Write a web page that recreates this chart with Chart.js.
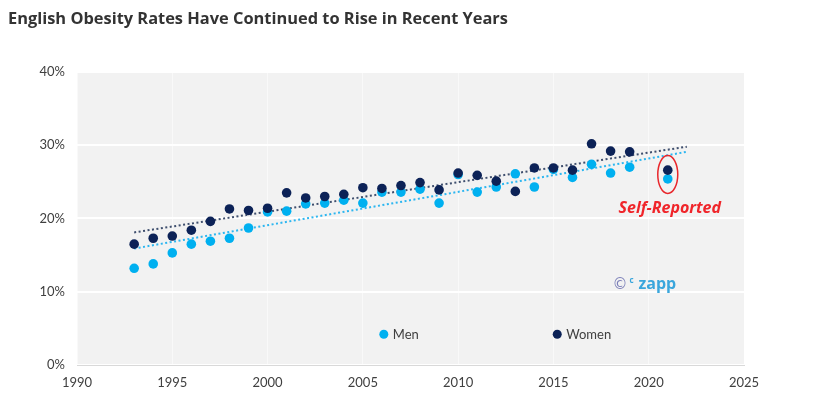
<!DOCTYPE html>
<html>
<head>
<meta charset="utf-8">
<script src="https://cdn.jsdelivr.net/npm/chart.js@4.4.0/dist/chart.umd.min.js"></script>
<style>
html, body { margin: 0; padding: 0; background: #fff; }
#wrap { width: 819px; height: 408px; }
</style>
</head>
<body>
<div id="wrap"><canvas id="chart"></canvas></div>
<script>
// survey years (no 2020 point)
var years = [1993, 1994, 1995, 1996, 1997, 1998, 1999, 2000, 2001, 2002, 2003, 2004, 2005, 2006,
             2007, 2008, 2009, 2010, 2011, 2012, 2013, 2014, 2015, 2016, 2017, 2018, 2019, 2021];
var menRates = [13.2, 13.8, 15.3, 16.5, 16.9, 17.3, 18.7, 20.9, 21.0, 22.0, 22.1, 22.5, 22.1, 23.6,
                23.6, 24.0, 22.1, 26.0, 23.6, 24.3, 26.1, 24.3, 26.7, 25.6, 27.4, 26.2, 27.0, 25.4];
var womenRates = [16.5, 17.3, 17.6, 18.4, 19.6, 21.3, 21.1, 21.4, 23.5, 22.8, 23.0, 23.3, 24.2, 24.1,
                  24.5, 24.9, 23.9, 26.2, 25.9, 25.1, 23.7, 26.9, 26.9, 26.6, 30.2, 29.2, 29.1, 26.6];
// dotted trend lines, end points
var trendYears = [1993, 2022];
var menTrend = [15.9, 29.1];
var womenTrend = [18.1, 29.8];
var xTicks = [1990, 1995, 2000, 2005, 2010, 2015, 2020, 2025];
var yTicks = [0, 10, 20, 30, 40];

var menColor = '#00b0f0';
var womenColor = '#0c2257';

function toPoints(xs, ys) {
    var out = [];
    for (let i = 0; i < xs.length; i++) {
        out.push({ x: xs[i], y: ys[i] });
    }
    return out;
}

// gray plot panel + notes, legend, watermark
var extras = {
    id: 'extras',
    beforeDraw: function(chart) {
        var ctx = chart.ctx, a = chart.chartArea;
        ctx.save();
        ctx.fillStyle = '#f2f2f2';
        ctx.fillRect(a.left, a.top, a.right - a.left, a.bottom - a.top);
        ctx.restore();
    },
    afterDatasetsDraw: function(chart) {
        var ctx = chart.ctx;
        var xs = chart.scales.x, ys = chart.scales.y;
        var last = years.length - 1;
        ctx.save();

        // red ring round the self-reported 2021 points
        var cx = xs.getPixelForValue(years[last]);
        var cy = (ys.getPixelForValue(menRates[last]) + ys.getPixelForValue(womenRates[last])) / 2;
        ctx.strokeStyle = '#e8262b';
        ctx.lineWidth = 1.5;
        ctx.beginPath();
        ctx.ellipse(cx, cy, 10, 19, 0, 0, Math.PI * 2);
        ctx.stroke();

        ctx.fillStyle = '#f0252a';
        ctx.font = 'italic bold 16px "Open Sans"';
        ctx.textAlign = 'center';
        ctx.textBaseline = 'middle';
        ctx.fillText('Self-Reported', cx + 2, cy + 34);

        // legend inside the plot
        var ly = ys.getPixelForValue(4.2);
        var items = [
            { label: 'Men', color: menColor, x: xs.getPixelForValue(2006.1) },
            { label: 'Women', color: womenColor, x: xs.getPixelForValue(2015.2) }
        ];
        ctx.font = '13px Lato';
        ctx.textAlign = 'left';
        items.forEach(function(it) {
            ctx.fillStyle = it.color;
            ctx.beginPath();
            ctx.arc(it.x, ly, 4.5, 0, Math.PI * 2);
            ctx.fill();
            ctx.fillStyle = '#404040';
            ctx.fillText(it.label, it.x + 9, ly + 1);
        });

        // watermark
        var wx = xs.getPixelForValue(2018.1), wy = ys.getPixelForValue(10.9);
        ctx.fillStyle = '#7d80b9';
        ctx.font = '15px "DejaVu Sans"';
        ctx.fillText('\u00a9', wx, wy);
        ctx.fillStyle = '#3aa6dc';
        ctx.font = 'bold 8px "Open Sans"';
        ctx.fillText('c', wx + 17, wy - 4);
        ctx.font = 'bold 16px "Open Sans"';
        ctx.fillText('zapp', wx + 26, wy - 1);

        ctx.restore();
    }
};

var tickFont = { family: 'Lato', size: 13 };

new Chart(document.getElementById('chart'), {
    type: 'scatter',
    data: {
        datasets: [
            {
                label: 'Women',
                data: toPoints(years, womenRates),
                backgroundColor: womenColor,
                borderColor: womenColor,
                pointRadius: 4.8,
                borderWidth: 0,
                order: 0
            },
            {
                label: 'Men',
                data: toPoints(years, menRates),
                backgroundColor: menColor,
                borderColor: menColor,
                pointRadius: 4.8,
                borderWidth: 0,
                order: 1
            },
            {
                label: 'Women trend',
                data: toPoints(trendYears, womenTrend),
                showLine: true,
                borderColor: '#3f4f6e',
                borderWidth: 2,
                borderDash: [2, 2.5],
                pointRadius: 0,
                order: 2
            },
            {
                label: 'Men trend',
                data: toPoints(trendYears, menTrend),
                showLine: true,
                borderColor: '#2cb6f0',
                borderWidth: 2,
                borderDash: [2, 2.5],
                pointRadius: 0,
                order: 3
            }
        ]
    },
    options: {
        responsive: true,
        maintainAspectRatio: false,
        animation: false,
        layout: { padding: { left: 8, right: 75, top: 0, bottom: 0 } },
        plugins: {
            legend: { display: false },
            tooltip: { enabled: false },
            title: {
                display: true,
                text: 'English Obesity Rates Have Continued to Rise in Recent Years',
                align: 'start',
                color: '#333333',
                font: { family: 'Open Sans', size: 16.4, weight: 'bold' },
                padding: { top: 9, bottom: 43.3 }
            }
        },
        scales: {
            x: {
                type: 'linear',
                min: 1990,
                max: 2025,
                afterBuildTicks: function(scale) {
                    scale.ticks = xTicks.map(function(v) { return { value: v }; });
                },
                afterFit: function(scale) { scale.height = 43; },
                ticks: {
                    font: tickFont,
                    color: '#404040',
                    padding: 10,
                    maxRotation: 0,
                    callback: function(v) { return String(v); }
                },
                grid: { color: 'rgba(255,255,255,0.5)', lineWidth: 1, drawTicks: false },
                border: { color: '#d9d9d9', width: 1 }
            },
            y: {
                min: 0,
                max: 40,
                afterBuildTicks: function(scale) {
                    scale.ticks = yTicks.map(function(v) { return { value: v }; });
                },
                afterFit: function(scale) { scale.width = 69; },
                ticks: {
                    font: tickFont,
                    color: '#404040',
                    padding: 12,
                    callback: function(v) { return v + '%'; }
                },
                grid: { color: '#ffffff', lineWidth: 2, drawTicks: false },
                border: { display: false }
            }
        }
    },
    plugins: [extras]
});
</script>
</body>
</html>
